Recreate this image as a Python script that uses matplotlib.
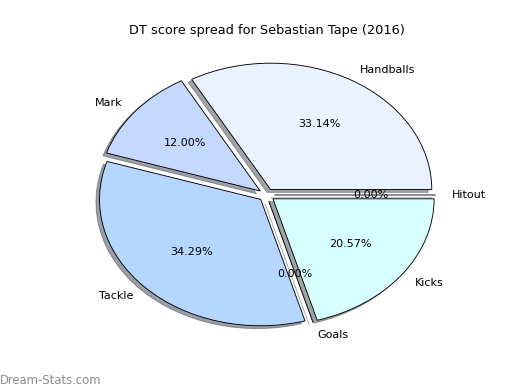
import matplotlib.pyplot as plt

# DT score spread, counter-clockwise from 0 degrees
labels = ['Hitout', 'Handballs', 'Mark', 'Tackle', 'Goals', 'Kicks']
points = [0, 58, 21, 60, 0, 36]
colors = ['#f0f4ff', '#eaf1ff', '#c5d8ff', '#b5d6ff', '#e8ffff', '#d8ffff']
title = 'DT score spread for Sebastian Tape (2016)'

fig = plt.figure(figsize=(6.5, 4.875), dpi=80)
ax = fig.add_subplot(111)
fig.subplots_adjust(left=0.125, right=0.9, bottom=0.095, top=0.905)

explode = [0.05] * len(points)
ax.pie(points, labels=labels, colors=colors, explode=explode,
       autopct='%1.2f%%', shadow=True, startangle=0,
       wedgeprops={'edgecolor': 'black', 'linewidth': 0.8},
       textprops={'fontsize': 10})
ax.set_aspect('auto')
ax.set_xlim(-1.25, 1.25)
ax.set_ylim(-1.25, 1.25)
ax.set_title(title, fontsize=11.6, pad=3)

fig.text(0.0, 0.016, 'Dream-Stats.com', color='#8c8c8c', fontsize=10.5,
         ha='left', va='baseline')

fig.savefig('out.png', dpi=80)
